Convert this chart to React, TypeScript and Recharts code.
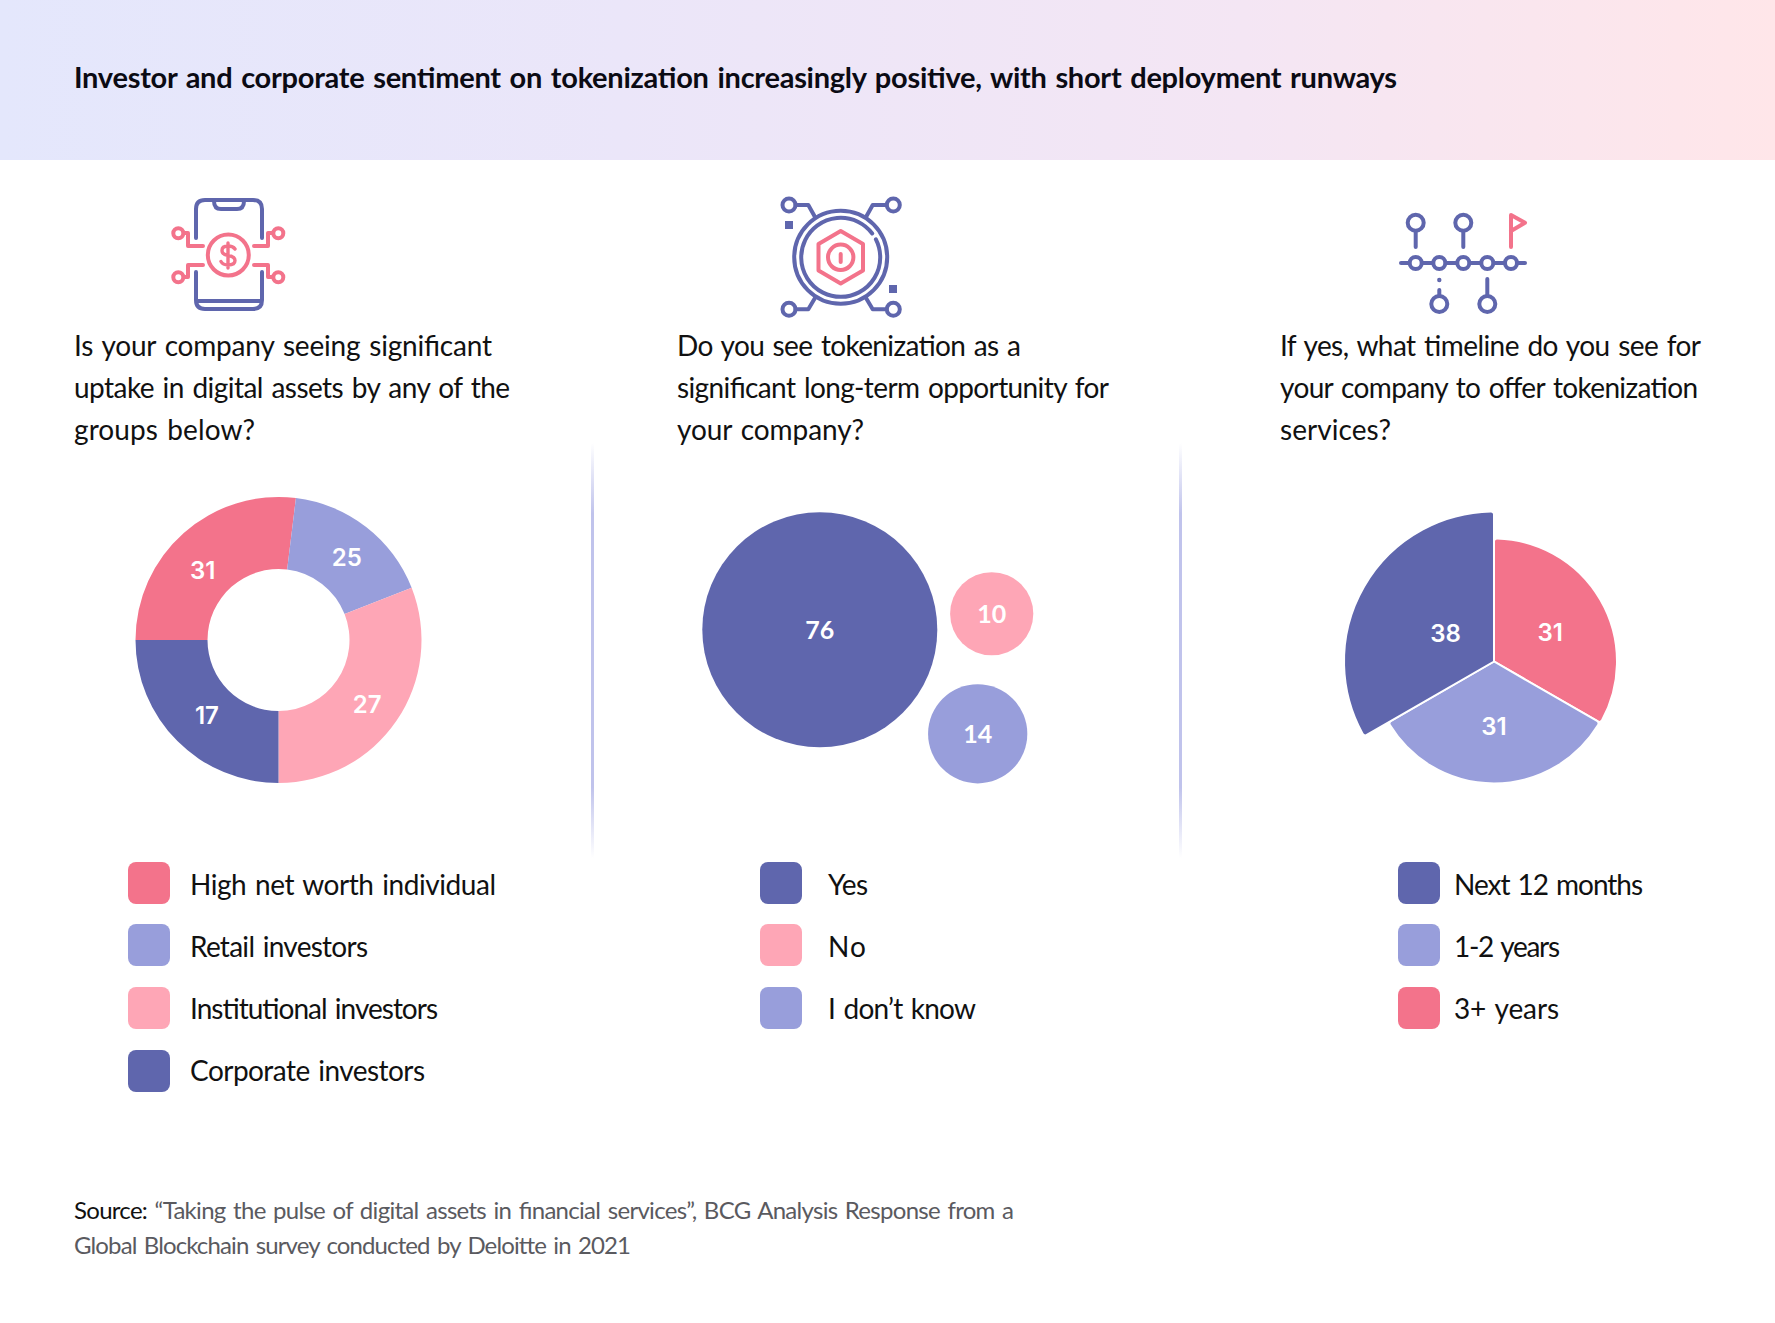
import { PieChart, Pie, Cell, ScatterChart, Scatter, XAxis, YAxis, ZAxis, LabelList } from "recharts";

const NAVY = "#5f66ad";
const PERI = "#989edb";
const PINK = "#fea6b6";
const RED = "#f3738b";

// donut: printed figures and the slice sweeps (degrees) as drawn in the picture
const holderNames = ["High net worth individual", "Retail investors", "Institutional investors", "Corporate investors"];
const holderValues = [31, 25, 27, 17];
const holderSweeps = [97, 61.6, 111.4, 90];
const holderColors = [RED, PERI, PINK, NAVY];
const holderNudgeX = [-5.5, 3.4, 1, 3.4];
const holderNudgeY = [10, 1, 4.5, 1];

// bubbles
const answerNames = ["Yes", "No", "I don\u2019t know"];
const answerValues = [76, 10, 14];
const answerX = [43.96, 78.34, 75.54];
const answerY = [53.2, 58.2, 20.7];
const answerColors = [NAVY, PINK, PERI];

// exploded pie, listed clockwise from the top
const timelineNames = ["3+ years", "1-2 years", "Next 12 months"];
const timelineValues = [31, 31, 38];
const timelineSweeps = [120, 120, 120];
const timelineRadius = [123, 122, 150];
const timelineLabelRadius = [65, 63, 56];
const timelineNudgeY = [3, 2, 0];
const timelineColors = [RED, PERI, NAVY];

const holderData = holderNames.map((name, i) => ({ name, sweep: holderSweeps[i], value: holderValues[i] }));
const answerData = answerNames.map((name, i) => ({ name, x: answerX[i], y: answerY[i], z: answerValues[i] }));
const timelineData = timelineNames.map((name, i) => ({ name, sweep: timelineSweeps[i], value: timelineValues[i], idx: i }));

const RADIAN = Math.PI / 180;
const FONT = "Lato, sans-serif";
const NUM_FONT = "Inter, sans-serif";
const DIVIDER = "linear-gradient(180deg, rgba(192,195,236,0) 0%, #c0c3ec 17%, #c0c3ec 83%, rgba(192,195,236,0) 100%)";

// text line squeezed to the width it has in the picture
function Line({ x, y, end, size = 28, weight = 400, fill = "#111", children }: any) {
  return (
    <text x={x} y={y} textLength={end - x} lengthAdjust="spacing" wordSpacing={2} fontFamily={FONT} fontSize={size} fontWeight={weight} fill={fill}>
      {children}
    </text>
  );
}

function LegendRows({ swatchX, textX, rows }: any) {
  const baselines = [895, 957, 1019, 1081];
  const swatchTops = [862, 924, 987, 1050];
  return (
    <g>
      {rows.map((r: any, i: number) => (
        <g key={r.name}>
          <rect x={swatchX} y={swatchTops[i]} width={42} height={42} rx={8} fill={r.color} />
          <Line x={textX} y={baselines[i]} end={r.end} size={28}>{r.name}</Line>
        </g>
      ))}
    </g>
  );
}

const Icons = () => (
  <g fill="none" strokeWidth={4} strokeLinecap="round" strokeLinejoin="round">
    {/* phone */}
    <g stroke={NAVY}>
      <path d="M196 238 V209 Q196 200 205 200 H253 Q262 200 262 209 V238" />
      <path d="M214 201 Q214 209 221 209 H237 Q244 209 244 201" />
      <path d="M196 272 V300 Q196 309 205 309 H253 Q262 309 262 300 V272" />
      <path d="M197 301 H261" />
    </g>
    <g stroke={RED}>
      <circle cx={228.3} cy={255} r={20.5} />
      <path d="M235 249 Q233 246 228 246 Q222 246 222 250.5 Q222 254.5 228 255.5 Q235 256.5 235 260.5 Q235 265 228 265 Q223 265 221 261.5 M228 243 V268" strokeWidth={3.4} />
      <circle cx={178.3} cy={233.3} r={5} />
      <circle cx={278.3} cy={233.3} r={5} />
      <circle cx={178.3} cy={277.3} r={5} />
      <circle cx={278.3} cy={277.3} r={5} />
      <path d="M184 233 H188 V246 H203" />
      <path d="M273 233 H268 V246 H254" />
      <path d="M184 277 H188 V265 H203" />
      <path d="M273 277 H268 V265 H254" />
    </g>
    {/* target */}
    <g stroke={NAVY}>
      <circle cx={840.7} cy={257.3} r={46.5} />
      <path d="M875.9 239.4 A39.5 39.5 0 1 1 872.2 233.5" />
      <circle cx={789} cy={205} r={6.5} />
      <circle cx={893.3} cy={205} r={6.5} />
      <circle cx={789} cy={309.3} r={6.5} />
      <circle cx={893.3} cy={309.3} r={6.5} />
      <path d="M795.5 205 H808.3 L815 217" />
      <path d="M886.5 205 H872.7 L866 217" />
      <path d="M795.5 309.3 H808.3 L815 298" />
      <path d="M886.5 309.3 H872.7 L866 298" />
    </g>
    <rect x={785} y={221} width={8} height={8} fill={NAVY} stroke="none" />
    <rect x={889} y={285} width={8} height={8} fill={NAVY} stroke="none" />
    <g stroke={RED}>
      <path d="M840.7 231 L863 244 V270.5 L840.7 283.5 L818.5 270.5 V244 Z" />
      <circle cx={840.7} cy={257.3} r={12.7} />
      <path d="M840.7 254 V262" />
    </g>
    {/* timeline */}
    <g stroke={NAVY}>
      <path d="M1401 263 H1525" />
      {[1415.7, 1439.3, 1463.3, 1487.3, 1511].map((x) => (
        <circle key={x} cx={x} cy={263} r={6} fill="#fff" />
      ))}
      <circle cx={1415.7} cy={222.7} r={8} />
      <path d="M1415.7 231 V247" />
      <circle cx={1463.3} cy={222.7} r={8} />
      <path d="M1463.3 231 V247" />
      <circle cx={1439.3} cy={304} r={8} />
      <path d="M1439.3 290 V296" />
      <circle cx={1439.3} cy={280} r={1.2} strokeWidth={2} />
      <circle cx={1487.3} cy={304} r={8} />
      <path d="M1487.3 279 V296" />
    </g>
    <path d="M1511 247 V215 L1525 222.7 L1511 231" stroke={RED} />
  </g>
);

const holderLabel = ({ cx, cy, midAngle, index }: any) => (
  <text
    x={cx + 106 * Math.cos(-midAngle * RADIAN) + holderNudgeX[index]}
    y={cy + 106 * Math.sin(-midAngle * RADIAN) + holderNudgeY[index]}
    textAnchor="middle"
    dominantBaseline="central"
    fill="#fff"
    fontFamily={NUM_FONT}
    fontSize={24}
    fontWeight={600}
  >
    {holderValues[index]}
  </text>
);

const timelineLabel = ({ cx, cy, midAngle, index }: any) => (
  <text
    x={cx + timelineLabelRadius[index] * Math.cos(-midAngle * RADIAN)}
    y={cy + timelineLabelRadius[index] * Math.sin(-midAngle * RADIAN) + timelineNudgeY[index]}
    textAnchor="middle"
    dominantBaseline="central"
    fill="#fff"
    fontFamily={NUM_FONT}
    fontSize={24}
    fontWeight={600}
  >
    {timelineValues[index]}
  </text>
);

export default function App() {
  return (
    <div style={{ position: "absolute", left: 0, top: 0, width: 1775, height: 1323, background: "#fff", overflow: "hidden" }}>
      <div style={{ position: "absolute", left: 0, top: 0, width: 1775, height: 160, background: "linear-gradient(90deg, #e4e7fc 0%, #ebe6f9 35%, #f4e6f4 70%, #ffe6e9 100%)" }} />

      <div style={{ position: "absolute", left: 591, top: 443, width: 3, height: 415, background: DIVIDER }} />
      <div style={{ position: "absolute", left: 1179, top: 443, width: 3, height: 415, background: DIVIDER }} />

      <div style={{ position: "absolute", left: 100, top: 470 }}>
        <PieChart width={360} height={340} margin={{ top: 0, right: 0, bottom: 0, left: 0 }}>
          <Pie
            data={holderData}
            dataKey="sweep"
            cx={178.5}
            cy={170}
            innerRadius={71}
            outerRadius={143}
            startAngle={180}
            endAngle={-180}
            stroke="none"
            label={holderLabel}
            labelLine={false}
            isAnimationActive={false}
          >
            {holderData.map((d, i) => (
              <Cell key={d.name} fill={holderColors[i]} />
            ))}
          </Pie>
        </PieChart>
      </div>

      <div style={{ position: "absolute", left: 600, top: 480 }}>
        <ScatterChart width={500} height={320} margin={{ top: 0, right: 0, bottom: 0, left: 0 }}>
          <XAxis type="number" dataKey="x" domain={[0, 100]} hide />
          <YAxis type="number" dataKey="y" domain={[0, 100]} hide />
          <ZAxis type="number" dataKey="z" domain={[10, 76]} range={[5437, 43374]} />
          <Scatter data={answerData} isAnimationActive={false}>
            {answerData.map((d, i) => (
              <Cell key={d.name} fill={answerColors[i]} />
            ))}
            <LabelList dataKey="z" position="center" fill="#fff" fontFamily={FONT} fontSize={25} fontWeight={700} />
          </Scatter>
        </ScatterChart>
      </div>

      <div style={{ position: "absolute", left: 1310, top: 490 }}>
        <PieChart width={320} height={330} margin={{ top: 0, right: 0, bottom: 0, left: 0 }}>
          <Pie
            data={timelineData}
            dataKey="sweep"
            cx={184}
            cy={171.5}
            innerRadius={0}
            outerRadius={(d: any) => timelineRadius[d.idx]}
            startAngle={90}
            endAngle={-270}
            cornerRadius={3}
            stroke="#fff"
            strokeWidth={2}
            label={timelineLabel}
            labelLine={false}
            isAnimationActive={false}
          >
            {timelineData.map((d, i) => (
              <Cell key={d.name} fill={timelineColors[i]} />
            ))}
          </Pie>
        </PieChart>
      </div>

      <svg width={1775} height={1323} style={{ position: "absolute", left: 0, top: 0, pointerEvents: "none" }}>
        <Line x={74} y={88} end={1397} size={29} weight={700} fill="#0b0b14">
          Investor and corporate sentiment on tokenization increasingly positive, with short deployment runways
        </Line>

        <Icons />

        <Line x={74} y={356} end={492}>Is your company seeing significant</Line>
        <Line x={74} y={398} end={510}>uptake in digital assets by any of the</Line>
        <Line x={74} y={440} end={255}>groups below?</Line>

        <Line x={677} y={356} end={1021}>Do you see tokenization as a</Line>
        <Line x={677} y={398} end={1109}>significant long-term opportunity for</Line>
        <Line x={677} y={440} end={864}>your company?</Line>

        <Line x={1280} y={356} end={1701}>If yes, what timeline do you see for</Line>
        <Line x={1280} y={398} end={1698}>your company to offer tokenization</Line>
        <Line x={1280} y={440} end={1391}>services?</Line>

        <LegendRows
          swatchX={128}
          textX={190}
          rows={[
            { name: holderNames[0], color: holderColors[0], end: 496 },
            { name: holderNames[1], color: holderColors[1], end: 368 },
            { name: holderNames[2], color: holderColors[2], end: 438 },
            { name: holderNames[3], color: holderColors[3], end: 425 },
          ]}
        />
        <LegendRows
          swatchX={760}
          textX={828}
          rows={[
            { name: answerNames[0], color: answerColors[0], end: 868 },
            { name: answerNames[1], color: answerColors[1], end: 866 },
            { name: answerNames[2], color: answerColors[2], end: 976 },
          ]}
        />
        <LegendRows
          swatchX={1398}
          textX={1454}
          rows={[
            { name: timelineNames[2], color: timelineColors[2], end: 1643 },
            { name: timelineNames[1], color: timelineColors[1], end: 1560 },
            { name: timelineNames[0], color: timelineColors[0], end: 1559 },
          ]}
        />

        <Line x={74} y={1219} end={1014} size={24} fill="#5a5a5f">
          <tspan fill="#111">Source:</tspan> {"\u201CTaking the pulse of digital assets in financial services\u201D, BCG Analysis Response from a"}
        </Line>
        <Line x={74} y={1254} end={631} size={24} fill="#5a5a5f">
          Global Blockchain survey conducted by Deloitte in 2021
        </Line>
      </svg>
    </div>
  );
}
